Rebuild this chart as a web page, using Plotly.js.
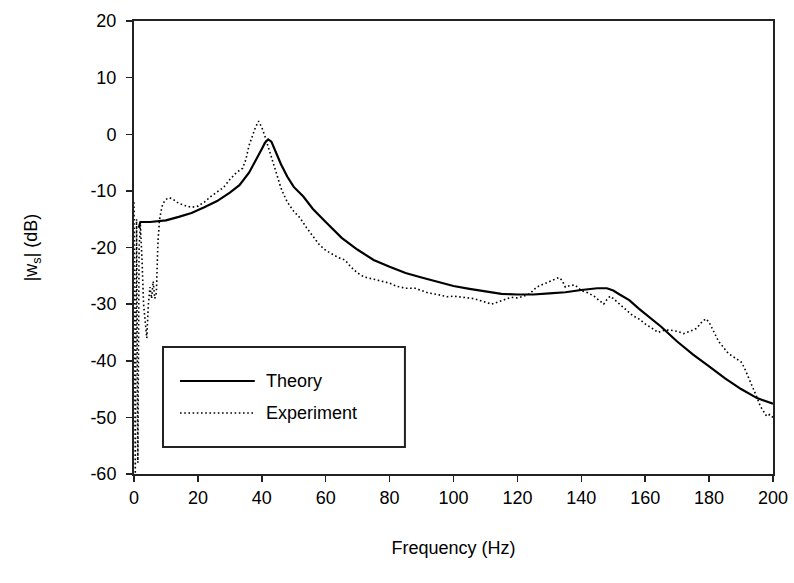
<!DOCTYPE html>
<html>
<head>
<meta charset="utf-8">
<script src="https://cdn.plot.ly/plotly-3.0.1.min.js"></script>
<style>html,body{margin:0;padding:0;background:#fff;}#chart{width:794px;height:583px;}</style>
</head>
<body>
<div id="chart"></div>
<script>
// Theory curve
const theoryFreq = [1.5, 2, 5, 8, 10, 14, 18, 22, 26, 30, 33, 36, 38, 40, 41, 42, 43, 44, 46, 48, 50, 53, 56, 60, 65, 70, 75, 80, 85, 90, 95, 100, 105, 110, 115, 120, 125, 130, 135, 140, 145, 148, 150, 152, 155, 158, 161, 165, 170, 175, 180, 185, 190, 195, 200];
const theoryDB = [-16.5, -15.5, -15.5, -15.4, -15.2, -14.6, -13.9, -12.9, -11.8, -10.3, -9.0, -6.8, -4.8, -2.6, -1.5, -0.9, -1.3, -2.6, -5.3, -7.5, -9.3, -11.0, -13.2, -15.5, -18.3, -20.4, -22.2, -23.4, -24.5, -25.3, -26.1, -26.8, -27.3, -27.8, -28.2, -28.3, -28.3, -28.1, -27.9, -27.5, -27.2, -27.2, -27.6, -28.3, -29.3, -30.8, -32.2, -34.0, -36.6, -38.9, -41.0, -43.1, -45.0, -46.6, -47.6];

// Experiment curve
const expFreq = [0, 0.4, 0.8, 1.2, 1.6, 2.0, 2.5, 3.0, 3.5, 4.0, 4.5, 5.0, 5.5, 6.0, 6.5, 7.0, 7.5, 8.0, 8.5, 9.0, 10, 11, 12, 13, 14, 16, 18, 20, 22, 24, 26, 28, 30, 32, 34, 35, 36, 37, 38, 39, 40, 41, 42, 43, 44, 45, 46, 47, 48, 50, 52, 54, 56, 58, 60, 62, 64, 66, 68, 70, 72, 75, 78, 80, 82, 85, 88, 90, 92, 95, 98, 100, 103, 106, 108, 110, 112, 114, 116, 118, 120, 122, 124, 126, 128, 130, 132, 133, 134, 135, 136, 138, 140, 142, 144, 146, 147, 148, 149, 150, 152, 154, 156, 158, 160, 162, 164, 166, 168, 170, 172, 174, 176, 178, 179, 180, 181, 183, 186, 188, 190, 191, 192, 193, 194, 195, 196, 197, 198, 199, 200];
const expDB = [-12, -60, -15, -58, -20, -16, -22, -30, -33, -36, -30, -27, -29, -26, -29, -28, -19, -15, -13.5, -12.3, -11.5, -11.2, -11.4, -11.8, -12.2, -12.6, -12.9, -12.7, -12, -11, -10.2, -9.4, -8, -6.8, -6, -4.5, -2, -0.3, 1.2, 2.3, 1.2, -0.4, -2.2, -4, -6, -7.8, -9.5, -10.8, -12, -13.6, -14.8, -16.5, -18, -19.5, -20.5, -21.2, -21.8, -22.2, -23.5, -24.5, -25.2, -25.6, -26, -26.3, -26.8, -27.2, -27.2, -27.6, -28, -28.3, -28.7, -28.6, -28.8, -29, -29.3, -29.6, -30, -29.6, -29.2, -28.8, -28.9, -28.6, -28.1, -27, -26.5, -26, -25.5, -25.3, -25.8, -27, -26.8, -26.6, -27.6, -28, -28.6, -29.6, -30, -29.2, -28.6, -29, -30, -31, -32, -32.6, -33.5, -34.2, -35, -34.6, -34.6, -34.8, -35.2, -34.8, -34.3, -33, -32.6, -33.2, -34.3, -36.6, -38.7, -39.5, -40.2, -41.2, -42.5, -44, -45, -46.5, -48, -49, -49.8, -49.5, -50];

const xTicks = [0, 20, 40, 60, 80, 100, 120, 140, 160, 180, 200];
const yTicks = [-60, -50, -40, -30, -20, -10, 0, 10, 20];
const seriesNames = ['Theory', 'Experiment'];

const font = 'Liberation Sans, Arial, sans-serif';
const theoryLine = {color: '#000', width: 2.2};
const expLine = {color: '#000', width: 1.6, dash: '1.6px,2.6px'};

const traces = [
  {x: theoryFreq, y: theoryDB, name: seriesNames[0], type: 'scatter', mode: 'lines', line: theoryLine},
  {x: expFreq, y: expDB, name: seriesNames[1], type: 'scatter', mode: 'lines', line: expLine}
];

// Legend box drawn in paper coordinates (long sample lines like the original)
const legBox = {x0: 0.0454, x1: 0.424, y0: 0.0596, y1: 0.2804};
const legRows = [0.2053, 0.1347];
const shapes = [
  {type: 'rect', xref: 'paper', yref: 'paper', x0: legBox.x0, x1: legBox.x1, y0: legBox.y0, y1: legBox.y1,
   line: {color: '#222', width: 2}, fillcolor: '#fff', layer: 'above'},
  {type: 'line', xref: 'paper', yref: 'paper', x0: 0.072, x1: 0.189, y0: legRows[0], y1: legRows[0], line: theoryLine},
  {type: 'line', xref: 'paper', yref: 'paper', x0: 0.072, x1: 0.189, y0: legRows[1], y1: legRows[1], line: {color: '#000', width: 1.6, dash: '1.6px,2.6px'}}
];
const annotations = seriesNames.map((n, i) => ({
  text: n, xref: 'paper', yref: 'paper', x: 0.2034, y: legRows[i], xanchor: 'left', yanchor: 'middle',
  showarrow: false, font: {family: font, size: 18, color: '#000'}
}));

const layout = {
  width: 794, height: 583,
  margin: {l: 134, r: 21, t: 21, b: 109},
  paper_bgcolor: '#fff', plot_bgcolor: '#fff',
  font: {family: font, size: 18, color: '#000'},
  showlegend: false,
  shapes: shapes,
  annotations: annotations,
  xaxis: {
    range: [0, 200], tickvals: xTicks, ticktext: xTicks.map(String),
    showgrid: false, zeroline: false,
    showline: true, linecolor: '#222', linewidth: 2, mirror: true,
    ticks: 'outside', ticklen: 6, tickwidth: 1.5, tickcolor: '#222',
    tickfont: {family: font, size: 18, color: '#000'},
    title: {text: 'Frequency (Hz)', font: {family: font, size: 18, color: '#000'}, standoff: 35}
  },
  yaxis: {
    range: [-60, 20], tickvals: yTicks, ticktext: yTicks.map(String),
    showgrid: false, zeroline: false,
    showline: true, linecolor: '#222', linewidth: 2, mirror: true,
    ticks: 'outside', ticklen: 6, tickwidth: 1.5, tickcolor: '#222',
    ticklabelstandoff: 6,
    tickfont: {family: font, size: 18, color: '#000'},
    title: {text: '|w<sub>s</sub>| (dB)', font: {family: font, size: 18, color: '#000'}, standoff: 48}
  }
};

Plotly.newPlot('chart', traces, layout, {displayModeBar: false, staticPlot: true});
</script>
</body>
</html>
